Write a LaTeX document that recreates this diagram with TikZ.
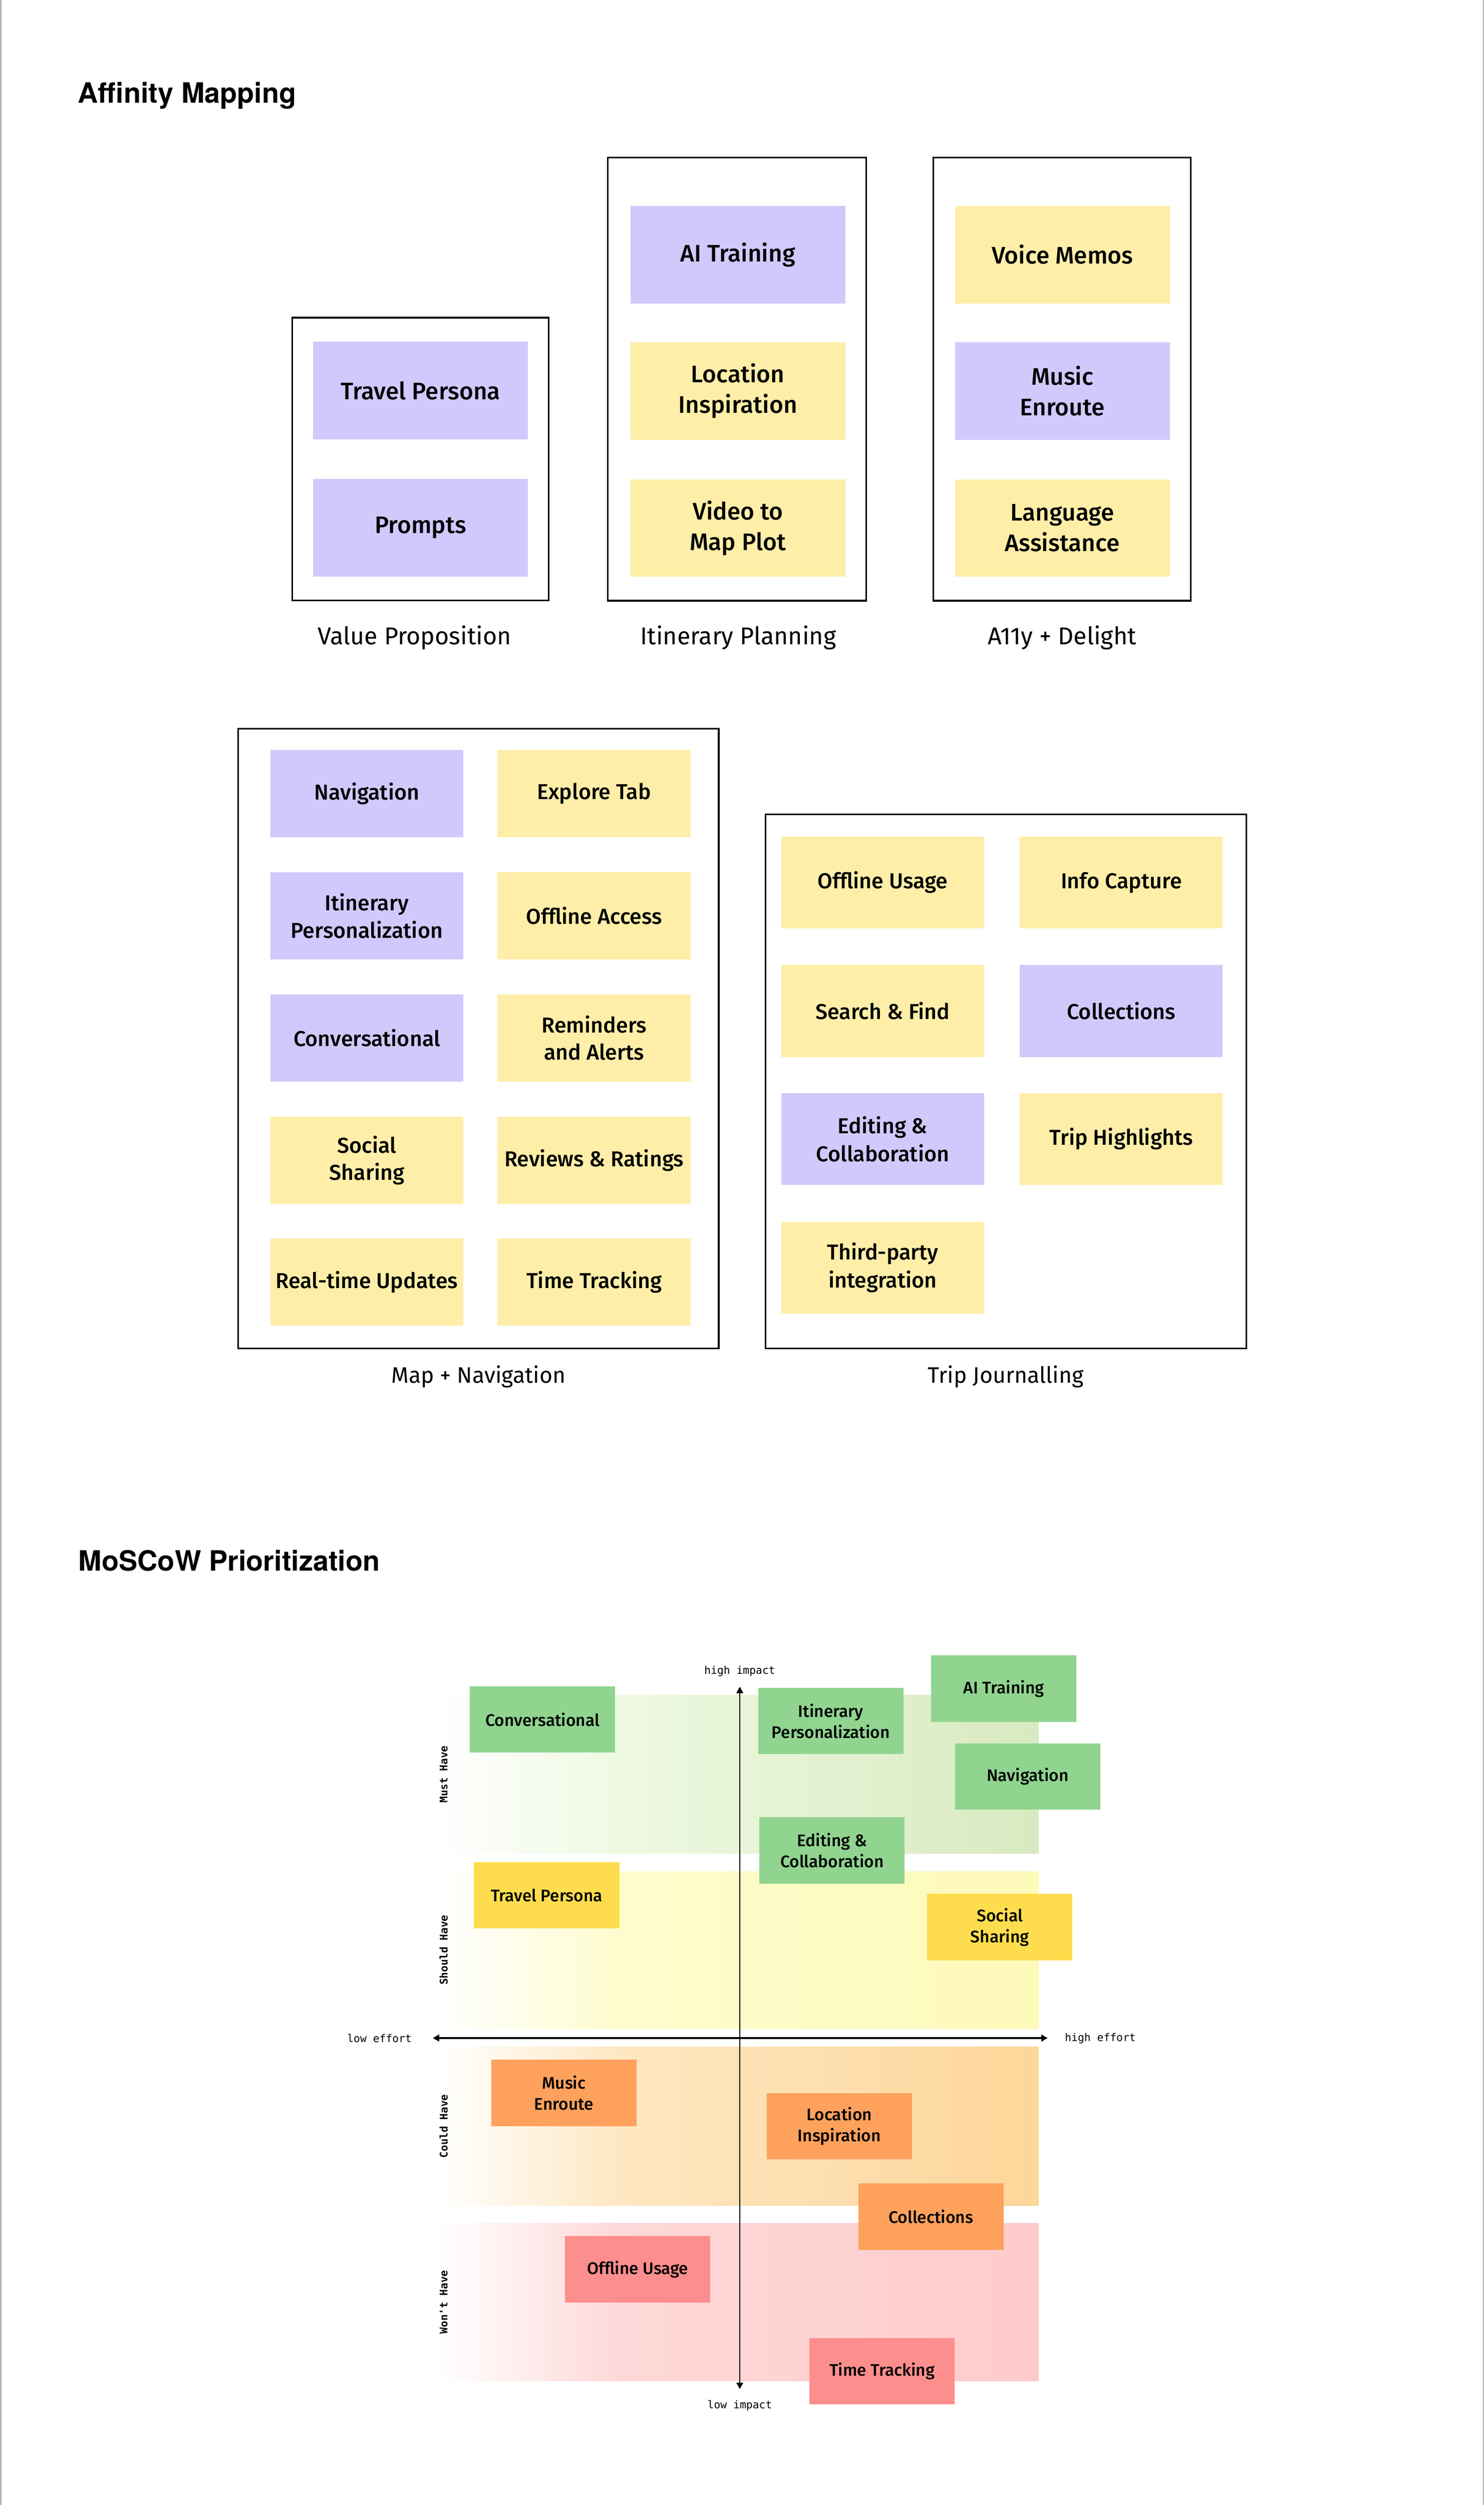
\documentclass[tikz,border=0pt]{standalone}
\usepackage{fontspec}
\setmainfont{Fira Sans}
\newfontfamily\notefont{Fira Sans}[UprightFont=* Medium]
\newfontfamily\headfont{TeX Gyre Heros}
\newfontfamily\axisfont{DejaVu Sans Mono}
\usetikzlibrary{arrows.meta}
\definecolor{notepurple}{HTML}{D1C9FC}
\definecolor{noteyellow}{HTML}{FEEEA8}
\definecolor{mgreen}{HTML}{90D490}
\definecolor{myellow}{HTML}{FDDD4E}
\definecolor{morange}{HTML}{FDA15D}
\definecolor{mred}{HTML}{FC8F8D}
\definecolor{mustmid}{HTML}{EEF9E1}
\definecolor{mustfull}{HTML}{D8EAC0}
\definecolor{shouldmid}{HTML}{FEFCCE}
\definecolor{shouldfull}{HTML}{FEFABA}
\definecolor{couldmid}{HTML}{FEE7C2}
\definecolor{couldfull}{HTML}{FDD699}
\definecolor{wontmid}{HTML}{FED8D8}
\definecolor{wontfull}{HTML}{FECBCB}
\pgfdeclarehorizontalshading{mustshade}{100bp}{color(0bp)=(white); color(25bp)=(white); color(40bp)=(mustmid); color(75bp)=(mustfull); color(100bp)=(mustfull)}
\pgfdeclarehorizontalshading{shouldshade}{100bp}{color(0bp)=(white); color(25bp)=(white); color(40bp)=(shouldmid); color(75bp)=(shouldfull); color(100bp)=(shouldfull)}
\pgfdeclarehorizontalshading{couldshade}{100bp}{color(0bp)=(white); color(25bp)=(white); color(40bp)=(couldmid); color(75bp)=(couldfull); color(100bp)=(couldfull)}
\pgfdeclarehorizontalshading{wontshade}{100bp}{color(0bp)=(white); color(25bp)=(white); color(40bp)=(wontmid); color(75bp)=(wontfull); color(100bp)=(wontfull)}
\tikzstyle{frame}=[draw, line width=1pt, inner sep=0pt]
\tikzstyle{note}=[inner sep=0pt, align=center, font=\notefont\fontsize{14}{19}\selectfont]
\tikzstyle{tallnote}=[note, minimum width=134.5pt, minimum height=61pt, font=\notefont\fontsize{15}{19}\selectfont]
\tikzstyle{mapnote}=[note, minimum width=121pt, minimum height=54.6pt, font=\notefont\fontsize{13.5}{17}\selectfont]
\tikzstyle{tripnote}=[note, minimum width=127pt, minimum height=57.5pt, font=\notefont\fontsize{13.5}{17.5}\selectfont]
\tikzstyle{mnote}=[note, minimum width=91pt, minimum height=41.5pt, font=\notefont\fontsize{10.5}{13}\selectfont]
\tikzstyle{pnote}=[fill=notepurple]
\tikzstyle{ynote}=[fill=noteyellow]
\tikzstyle{caption}=[font=\fontsize{14}{17}\selectfont]
\tikzstyle{bigcaption}=[font=\fontsize{15.2}{18}\selectfont]
\tikzstyle{heading}=[anchor=west, inner sep=0pt, font=\headfont\bfseries\fontsize{17.5}{20}\selectfont]
\tikzstyle{axislabel}=[font=\axisfont\fontsize{6.7}{8}\selectfont]
\tikzstyle{bandlabel}=[rotate=90, font=\axisfont\bfseries\fontsize{6.6}{8}\selectfont]
\tikzstyle{axis}=[line width=0.9pt, {Triangle[length=4pt, width=4.2pt]}-{Triangle[length=4pt, width=4.2pt]}]

\begin{document}
\begin{tikzpicture}[x=1pt, y=-1pt]
    \useasboundingbox (0, 0) rectangle (929.19, 1568);
    \draw[gray!60, line width=0.8pt] (0.4, 0) -- (0.4, 1568);
    \draw[gray!60, line width=0.8pt] (928.8, 0) -- (928.8, 1568);

    \node[heading] (affinity) at (48.6, 59.7) {Affinity Mapping};

    \node[frame, minimum width=160.6pt, minimum height=177pt] (VP) at (263.3, 287.3) {};
    \node[tallnote, pnote] (VPpersona) at (263.3, 244.5) {Travel Persona};
    \node[tallnote, pnote] (VPprompts) at (263.3, 330.3) {Prompts};
    \node[bigcaption] (VPlabel) at (259.6, 399) {Value Proposition};

    \node[frame, minimum width=161.8pt, minimum height=277.4pt] (IP) at (461.4, 237.3) {};
    \node[tallnote, pnote] (IPtraining) at (462, 159.4) {AI Training};
    \node[tallnote, ynote] (IPlocation) at (462, 244.7) {Location\\Inspiration};
    \node[tallnote, ynote] (IPvideo) at (462, 330.5) {Video to\\Map Plot};
    \node[bigcaption] (IPlabel) at (462.2, 399) {Itinerary Planning};

    \node[frame, minimum width=161.2pt, minimum height=277.4pt] (AD) at (664.9, 237.3) {};
    \node[tallnote, ynote] (ADmemos) at (665.2, 159.4) {Voice Memos};
    \node[tallnote, pnote] (ADmusic) at (665.2, 244.7) {Music\\Enroute};
    \node[tallnote, ynote] (ADlanguage) at (665.2, 330.5) {Language\\Assistance};
    \node[bigcaption] (ADlabel) at (665, 399) {A11y + Delight};

    \node[frame, minimum width=301pt, minimum height=388pt] (MN) at (299.5, 650) {};
    \node[mapnote, pnote] (MNnav) at (229.7, 496.7) {Navigation};
    \node[mapnote, ynote] (MNexplore) at (372, 496.7) {Explore Tab};
    \node[mapnote, pnote] (MNitin) at (229.7, 573.3) {Itinerary\\Personalization};
    \node[mapnote, ynote] (MNoffline) at (372, 573.3) {Offline Access};
    \node[mapnote, pnote] (MNconv) at (229.7, 649.7) {Conversational};
    \node[mapnote, ynote] (MNremind) at (372, 649.7) {Reminders\\and Alerts};
    \node[mapnote, ynote] (MNsocial) at (229.7, 726.2) {Social\\Sharing};
    \node[mapnote, ynote] (MNreviews) at (372, 726.2) {Reviews \& Ratings};
    \node[mapnote, ynote] (MNrealtime) at (229.7, 802.5) {Real-time Updates};
    \node[mapnote, ynote] (MNtime) at (372, 802.5) {Time Tracking};
    \node[caption] (MNlabel) at (299.6, 861.7) {Map + Navigation};

    \node[frame, minimum width=301pt, minimum height=334.2pt] (TJ) at (629.9, 676.9) {};
    \node[tripnote, ynote] (TJoffline) at (552.7, 552.4) {Offline Usage};
    \node[tripnote, ynote] (TJinfo) at (702.1, 552.4) {Info Capture};
    \node[tripnote, ynote] (TJsearch) at (552.7, 632.8) {Search \& Find};
    \node[tripnote, pnote] (TJcollect) at (702.1, 632.8) {Collections};
    \node[tripnote, pnote] (TJedit) at (552.7, 712.9) {Editing \&\\Collaboration};
    \node[tripnote, ynote] (TJhigh) at (702.1, 712.9) {Trip Highlights};
    \node[tripnote, ynote] (TJthird) at (552.7, 793.5) {Third-party\\integration};
    \node[caption] (TJlabel) at (629.7, 861.7) {Trip Journalling};

    \node[heading] (moscow) at (49, 977) {MoSCoW Prioritization};

    \shade[shading=mustshade] (275, 1061) rectangle (650.4, 1160.3);
    \shade[shading=shouldshade] (275, 1171.3) rectangle (650.4, 1270);
    \shade[shading=couldshade] (275, 1281.2) rectangle (650.4, 1380.5);
    \shade[shading=wontshade] (275, 1391.5) rectangle (650.4, 1490.3);
    \node[bandlabel] (must) at (277.8, 1110.6) {Must Have};
    \node[bandlabel] (should) at (277.8, 1220.6) {Should Have};
    \node[bandlabel] (could) at (277.8, 1330.8) {Could Have};
    \node[bandlabel] (wont) at (277.8, 1440.9) {Won't Have};

    \coordinate (highimpact) at (463.2, 1055.8);
    \coordinate (lowimpact) at (463.2, 1495.4);
    \coordinate (loweffort) at (271, 1275.7);
    \coordinate (higheffort) at (656, 1275.7);
    \draw[axis, line width=0.8pt] (highimpact) -- (lowimpact);
    \draw[axis, line width=1.1pt] (loweffort) -- (higheffort);
    \node[axislabel] (HIlabel) at (463.2, 1046) {high impact};
    \node[axislabel] (LIlabel) at (463.2, 1505.6) {low impact};
    \node[axislabel] (LElabel) at (237.6, 1275.9) {low effort};
    \node[axislabel] (HElabel) at (689, 1275.9) {high effort};

    \node[mnote, fill=mgreen] (Mconv) at (339.7, 1076.3) {Conversational};
    \node[mnote, fill=mgreen] (Mitin) at (520.2, 1077.3) {Itinerary\\Personalization};
    \node[mnote, fill=mgreen] (Mtraining) at (628.5, 1057) {AI Training};
    \node[mnote, fill=mgreen] (Mnav) at (643.5, 1112) {Navigation};
    \node[mnote, fill=mgreen] (Medit) at (521, 1158.3) {Editing \&\\Collaboration};
    \node[mnote, fill=myellow] (Mpersona) at (342.3, 1186.4) {Travel Persona};
    \node[mnote, fill=myellow] (Msocial) at (626, 1206.3) {Social\\Sharing};
    \node[mnote, fill=morange] (Mmusic) at (353.1, 1310) {Music\\Enroute};
    \node[mnote, fill=morange] (Mlocation) at (525.5, 1330.8) {Location\\Inspiration};
    \node[mnote, fill=morange] (Mcollect) at (582.9, 1387.5) {Collections};
    \node[mnote, fill=mred] (Moffline) at (399.3, 1420.4) {Offline Usage};
    \node[mnote, fill=mred] (Mtime) at (552.3, 1484.3) {Time Tracking};
\end{tikzpicture}
\end{document}
